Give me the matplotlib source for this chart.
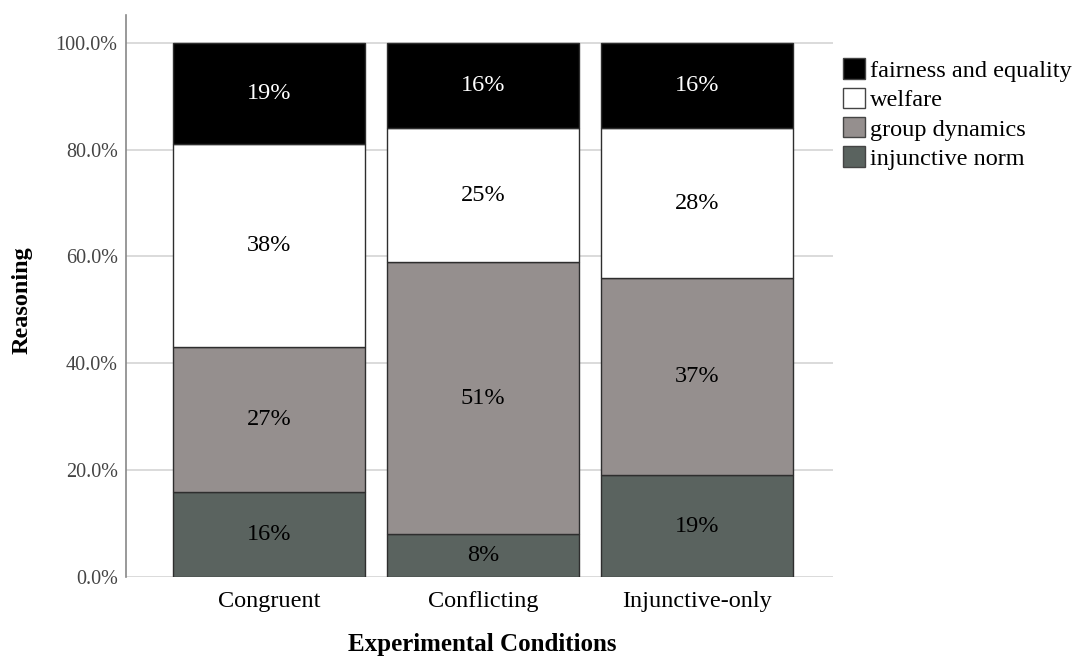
import matplotlib
matplotlib.use("Agg")
import matplotlib.pyplot as plt
from matplotlib.patches import Patch
import numpy as np

conditions = ["Congruent", "Conflicting", "Injunctive-only"]
categories = ["injunctive norm", "group dynamics", "welfare", "fairness and equality"]
injunctive_norm = [16, 8, 19]
group_dynamics = [27, 51, 37]
welfare = [38, 25, 28]
fairness_equality = [19, 16, 16]
series = [injunctive_norm, group_dynamics, welfare, fairness_equality]
colors = ["#5a635f", "#958f8e", "#ffffff", "#000000"]
text_colors = ["black", "black", "black", "white"]
yticks = [0, 20, 40, 60, 80, 100]

serif = ["Liberation Serif", "DejaVu Serif"]
plt.rcParams["font.family"] = serif

fig = plt.figure(figsize=(10.75, 6.57), dpi=100)
ax = fig.add_axes([0.1172, 0.1218, 0.6577, 0.8554])

x = np.arange(len(conditions))
bottom = np.zeros(len(conditions))
for vals, col, tcol in zip(series, colors, text_colors):
    vals = np.array(vals, dtype=float)
    ax.bar(x, vals, width=0.897, bottom=bottom, color=col,
           edgecolor="#2e2e2e", linewidth=1.0, zorder=3)
    for xi, b, v in zip(x, bottom, vals):
        ax.text(xi, b + v / 2, f"{v:.0f}%", ha="center", va="center",
                fontsize=17.5, color=tcol, zorder=4)
    bottom += vals

ax.set_xlim(-0.668, 2.636)
ax.set_ylim(0, 105.2)
ax.set_yticks(yticks)
ax.set_yticklabels([f"{t:.1f}%" for t in yticks], fontsize=14.5, color="#444444")
ax.set_xticks(x)
ax.set_xticklabels(conditions, fontsize=17.5)
ax.tick_params(axis="both", length=0, pad=6)
ax.tick_params(axis="x", pad=10)
ax.yaxis.grid(True, color="#d4d4d4", linewidth=1.2, zorder=0)
ax.set_axisbelow(True)
for s in ["top", "right", "bottom"]:
    ax.spines[s].set_visible(False)
ax.spines["left"].set_color("#888888")
ax.spines["left"].set_linewidth(1.2)

fig.text(482 / 1075, 1 - 645 / 657, "Experimental Conditions", fontsize=18,
         fontweight="bold", ha="center", va="center")
fig.text(22 / 1075, 1 - 300 / 657, "Reasoning", fontsize=17.5,
         fontweight="bold", ha="center", va="center", rotation=90)

handles = [Patch(facecolor=c, edgecolor="#444444", linewidth=1.0)
           for c in colors[::-1]]
fig.legend(handles, categories[::-1], loc="upper left",
           bbox_to_anchor=(0.784, 0.911), frameon=False, fontsize=17.5,
           handlelength=0.9, handleheight=0.9, handletextpad=0.2,
           labelspacing=0.24, borderpad=0, borderaxespad=0)

fig.savefig("out.png", dpi=100)
